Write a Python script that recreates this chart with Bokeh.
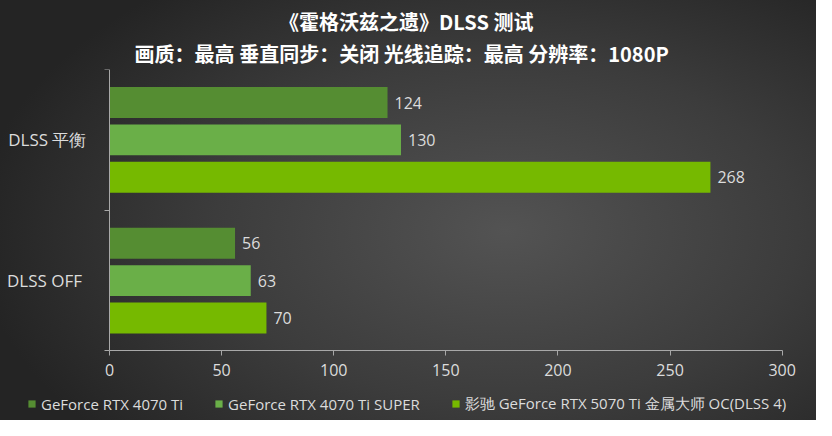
from bokeh.plotting import figure
from bokeh.models import (ColumnDataSource, Range1d, Title, Legend, LegendItem,
                          InlineStyleSheet, SingleIntervalTicker, FixedTicker)
from bokeh.core.properties import value
from bokeh.embed import file_html
from bokeh.resources import INLINE

# ---- data ----
groups = ["DLSS  OFF", "DLSS 平衡"]          # bottom -> top
series_names = ["GeForce RTX 4070 Ti", "GeForce RTX 4070 Ti SUPER",
                "影驰 GeForce RTX 5070 Ti 金属大师 OC(DLSS 4)"]
rtx4070ti = [56, 124]
rtx4070ti_super = [63, 130]
rtx5070ti = [70, 268]
x_min, x_max, x_step = 0, 300, 50

title_text = "《霍格沃兹之遗》DLSS  测试"
subtitle_text = "画质：最高  垂直同步：关闭  光线追踪：最高  分辨率：1080P"

# ---- style ----
colors = ["#558d32", "#6aaf48", "#76b900"]
offsets = [0.265, 0.0, -0.265]
values = [rtx4070ti, rtx4070ti_super, rtx5070ti]
CJK = "Noto Sans CJK SC"
LAT = "Open Sans"
LABEL_COLOR = "#dcdcdc"
AXIS_COLOR = "#a8a8a8"

group_centers = [i + 0.5 for i in range(len(groups))]

# the frame fills the whole canvas below the titles; axes are pinned at x=0 / y=0
p = figure(width=816, height=420, output_backend="svg", toolbar_location=None,
           x_range=Range1d(-48.6, 315.3), y_range=Range1d(-0.494, len(groups)),
           min_border=0, min_border_left=0, min_border_right=0, min_border_bottom=0,
           min_border_top=69)
p.stylesheets = [InlineStyleSheet(css=":host { background: radial-gradient(ellipse 65% 75% at 62% 55%, #535353 0%, #3c3c3c 55%, #242424 100%); }")]
p.background_fill_alpha = 0
p.border_fill_alpha = 0
p.outline_line_color = None
p.grid.grid_line_color = None

renderers = []
for name, vals, col, off in zip(series_names, values, colors, offsets):
    src = ColumnDataSource(dict(y=[c + off for c in group_centers], v=vals,
                                lab=[str(v) for v in vals]))
    r = p.hbar(y="y", right="v", left=0, height=0.22, source=src,
               fill_color=col, line_color=None)
    p.text(x="v", y="y", text="lab", source=src, x_offset=7,
           text_baseline="middle", text_align="left",
           text_color=LABEL_COLOR, text_font_size="16px", text_font=value(LAT))
    renderers.append((name, r))

# x axis
p.xaxis.fixed_location = 0
p.xaxis.bounds = (x_min, x_max)
p.xaxis.ticker = SingleIntervalTicker(interval=x_step)
p.xaxis.axis_line_color = AXIS_COLOR
p.xaxis.major_tick_line_color = AXIS_COLOR
p.xaxis.major_tick_out = 5
p.xaxis.major_tick_in = 0
p.xaxis.minor_tick_line_color = None
p.xaxis.major_label_text_color = LABEL_COLOR
p.xaxis.major_label_text_font_size = "16px"
p.xaxis.major_label_text_font = LAT
p.xaxis.major_label_standoff = 8

# y axis (category labels at group centres, small ticks at group boundaries)
p.yaxis.fixed_location = 0
p.yaxis.bounds = (0, len(groups))
p.yaxis.ticker = FixedTicker(ticks=group_centers, minor_ticks=list(range(len(groups) + 1)))
p.yaxis.major_label_overrides = {c: g for c, g in zip(group_centers, groups)}
p.yaxis.axis_line_color = AXIS_COLOR
p.yaxis.major_tick_line_color = None
p.yaxis.major_tick_out = 0
p.yaxis.major_tick_in = 0
p.yaxis.minor_tick_line_color = AXIS_COLOR
p.yaxis.minor_tick_out = 5
p.yaxis.minor_tick_in = 0
p.yaxis.major_label_text_color = LABEL_COLOR
p.yaxis.major_label_text_font_size = "17px"
p.yaxis.major_label_text_font = LAT
p.yaxis.major_label_standoff = 18

# titles
p.title.visible = False
p.add_layout(Title(text=subtitle_text, align="center", text_color="white",
                   text_font=CJK, text_font_size="20px", text_font_style="bold",
                   standoff=3), "above")
p.add_layout(Title(text=title_text, align="center", text_color="white",
                   text_font=CJK, text_font_size="20px", text_font_style="bold",
                   standoff=0), "above")

legend = Legend(items=[LegendItem(label=n, renderers=[r]) for n, r in renderers],
                orientation="horizontal", location=(27, 6),
                background_fill_alpha=0, border_line_color=None,
                label_text_color=LABEL_COLOR, label_text_font=LAT, label_text_font_size="15px",
                glyph_width=9, glyph_height=9, label_height=16, label_standoff=5, spacing=31,
                padding=0, margin=0)
p.add_layout(legend, "center")

open("out.html", "w").write(file_html(p, INLINE))
